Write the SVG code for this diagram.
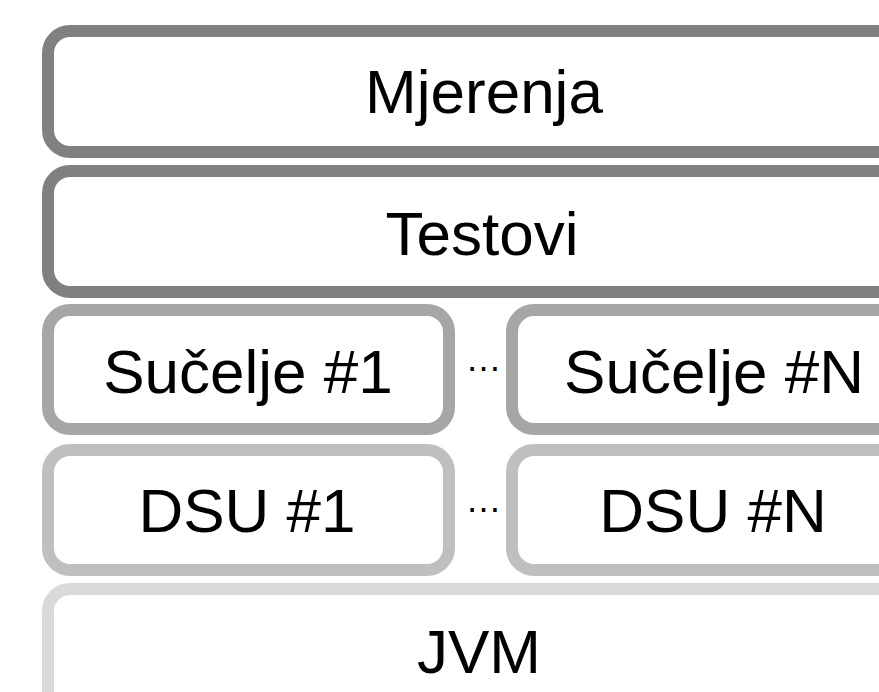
<svg xmlns="http://www.w3.org/2000/svg" width="879" height="692" viewBox="0 0 879 692">
<style>
.box{fill:#fff;stroke-width:12}
.l1{stroke:#808080}
.l2{stroke:#a6a6a6}
.l3{stroke:#bfbfbf}
.l4{stroke:#d9d9d9}
.t{font-family:"Liberation Sans",Arial,sans-serif;font-size:62px;fill:#000;text-anchor:middle}
.d{font-family:"Liberation Sans",Arial,sans-serif;font-size:36px;fill:#000;text-anchor:middle}
</style>
<rect width="879" height="692" fill="#fff"/>
<g id="mjerenja">
<rect class="box l1" x="48" y="31" width="868" height="121" rx="22"/>
<text class="t" x="484" y="113">Mjerenja</text>
</g>
<g id="testovi">
<rect class="box l1" x="48" y="171" width="868" height="121" rx="22"/>
<text class="t" x="482" y="255">Testovi</text>
</g>
<g id="sucelje1">
<rect class="box l2" x="48" y="310" width="401" height="119" rx="22"/>
<text class="t" x="248" y="393">Sučelje #1</text>
</g>
<g id="sucelje-dots">
<text class="d" x="483.5" y="371">…</text>
</g>
<g id="sucelje-n">
<rect class="box l2" x="512" y="310" width="404" height="119" rx="22"/>
<text class="t" x="714" y="393">Sučelje #N</text>
</g>
<g id="dsu1">
<rect class="box l3" x="48" y="450" width="401" height="120" rx="22"/>
<text class="t" x="247" y="532">DSU #1</text>
</g>
<g id="dsu-dots">
<text class="d" x="483.5" y="512">…</text>
</g>
<g id="dsu-n">
<rect class="box l3" x="512" y="450" width="404" height="120" rx="22"/>
<text class="t" x="713" y="532">DSU #N</text>
</g>
<g id="jvm">
<rect class="box l4" x="48" y="589" width="868" height="140" rx="22"/>
<text class="t" x="479" y="673">JVM</text>
</g>
<g id="connectors"/>
</svg>
